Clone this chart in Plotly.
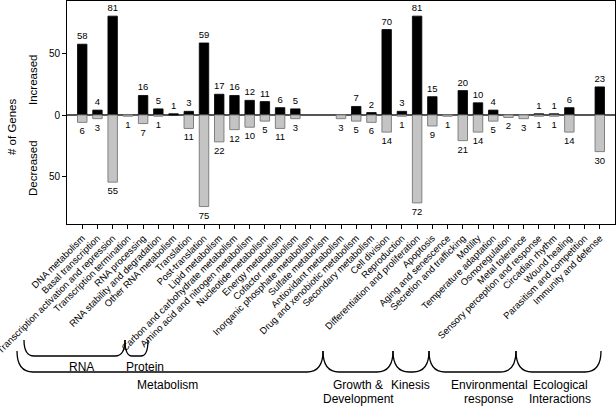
import plotly.graph_objects as go

categories = [
    "DNA metabolism", "Basal transcription", "Transcription activation and repression",
    "Transcription termination", "RNA processing", "RNA stability and degradation",
    "Other RNA metabolism", "Translation", "Post-translation", "Lipid metabolism",
    "Carbon and carbohydrate metabolism", "Amino acid and nitrogen metabolism",
    "Nucleotide metabolism", "Energy metabolism", "Cofactor metabolism",
    "Inorganic phosphate metabolism", "Sulfate metabolism", "Antioxidant metabolism",
    "Drug and xenobiotic metabolism", "Secondary metabolism", "Cell division",
    "Reproduction", "Differentiation and proliferation", "Apoptosis",
    "Aging and senescence", "Secretion and trafficking", "Motility",
    "Temperature adaptation", "Osmoregulation", "Metal tolerance",
    "Sensory perception and response", "Circadian rhythm", "Wound healing",
    "Parasitism and competition", "Immunity and defense",
]
increased = [58, 4, 81, 0, 16, 5, 1, 3, 59, 17, 16, 12, 11, 6, 5, 0, 0, 0, 7, 2,
             70, 3, 81, 15, 0, 20, 10, 4, 0, 0, 1, 1, 6, 0, 23]
decreased = [6, 3, 55, 1, 7, 1, 0, 11, 75, 22, 12, 10, 5, 11, 3, 0, 0, 3, 5, 6,
             14, 1, 72, 9, 1, 21, 14, 5, 2, 3, 1, 1, 14, 0, 30]

# sub-groups (label, left px, right px) and group labels (lines)
groups_top = [("RNA", 24, 125), ("Protein", 125, 148)]
groups_bottom = [("Metabolism", 17, 323), ("Growth &|Development", 323, 393),
                 ("Kinesis", 393, 429), ("Environmental|response", 429, 516),
                 ("Ecological|Interactions", 516, 601)]

W, H = 616, 406
ML, MR, MT, MB = 67, 1, 1, 182
PW, PH = W - ML - MR, H - MT - MB
FONT = "Arial, 'Liberation Sans', sans-serif"


def px(x):
    return (x - ML) / PW


def py(y):
    return (H - MB - y) / PH


fig = go.Figure()
fig.add_trace(go.Bar(
    x=categories, y=[v if v else None for v in increased],
    text=[str(v) if v else "" for v in increased], textposition="outside",
    textfont=dict(size=9.5, color="black", family=FONT), constraintext="none",
    cliponaxis=False, width=0.62, hoverinfo="skip",
    marker=dict(color="black", line=dict(color="black", width=0.8)),
))
fig.add_trace(go.Bar(
    x=categories, y=[-v if v else None for v in decreased],
    text=[str(v) if v else "" for v in decreased], textposition="outside",
    textfont=dict(size=9.5, color="black", family=FONT), constraintext="none",
    cliponaxis=False, width=0.62, hoverinfo="skip",
    marker=dict(color="#c4c4c4", line=dict(color="#808080", width=1)),
))

shapes = []


def brace(x0, x1, yt, yb, r):
    x0p, x1p = px(x0), px(x1)
    ytp, ybp = py(yt), py(yb)
    rp = r / PW
    path = (f"M {x0p},{ytp} Q {x0p},{ybp} {x0p + rp},{ybp} "
            f"L {x1p - rp},{ybp} Q {x1p},{ybp} {x1p},{ytp}")
    return dict(type="path", xref="paper", yref="paper", path=path,
                line=dict(color="black", width=1.3))


def label(text, x, y, size=12):
    return dict(x=px(x), y=py(y), xref="paper", yref="paper", text=text,
                showarrow=False, font=dict(size=size, family=FONT, color="black"),
                xanchor="center", yanchor="middle")


annotations = []
centers_top = {"RNA": 81, "Protein": 145}
for name, a, b in groups_top:
    shapes.append(brace(a, b, 340, 356, 10 if b - a > 40 else 7))
    annotations.append(label(name, centers_top[name], 367))

centers_bottom = {"Metabolism": 167, "Growth &|Development": 358, "Kinesis": 410,
                  "Environmental|response": 489, "Ecological|Interactions": 560}
for name, a, b in groups_bottom:
    shapes.append(brace(a, b, 351, 372, 16))
    for i, line in enumerate(name.split("|")):
        annotations.append(label(line, centers_bottom[name], 385 + 14 * i))

for text, x, y in [("# of Genes", 12, 127), ("Increased", 33, 80), ("Decreased", 33, 168)]:
    a = label(text, x, y, 11.5)
    a["textangle"] = -90
    annotations.append(a)

fig.update_layout(
    width=W, height=H, margin=dict(l=ML, r=MR, t=MT, b=MB, autoexpand=False),
    paper_bgcolor="white", plot_bgcolor="white", showlegend=False,
    barmode="relative", font=dict(family=FONT, color="black"),
    shapes=shapes, annotations=annotations, hovermode=False,
)
fig.update_xaxes(
    type="category", range=[-1, 35], showgrid=False, tickangle=-45,
    ticks="outside", ticklen=4, tickcolor="black", showline=True, linecolor="black",
    linewidth=1, mirror=True, tickfont=dict(size=9.5, family=FONT, color="black"),
)
fig.update_yaxes(
    range=[-89.3, 93.4], tickvals=[-50, 0, 50], ticktext=["50", "0", "50"],
    showgrid=False, ticks="outside", ticklen=4, tickcolor="black", showline=True,
    linecolor="black", linewidth=1, mirror=True, zeroline=True, zerolinecolor="#555555",
    zerolinewidth=1.3, tickfont=dict(size=10, family=FONT, color="black"),
)

fig.write_html(
    "out.html",
    config={"displayModeBar": False, "staticPlot": True},
    post_script="document.body.style.margin='0';document.body.style.padding='0';"
                "document.documentElement.style.overflow='hidden';",
)
